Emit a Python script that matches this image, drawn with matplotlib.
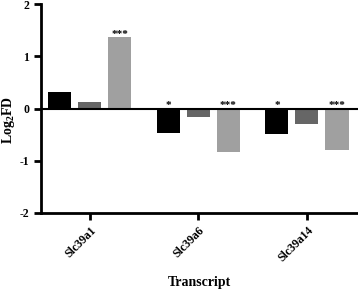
import matplotlib
matplotlib.use("Agg")
import matplotlib.pyplot as plt
import numpy as np

transcripts = ["Slc39a1", "Slc39a6", "Slc39a14"]
series1 = [0.31, -0.46, -0.48]
series2 = [0.13, -0.17, -0.29]
series3 = [1.37, -0.84, -0.80]
stars1 = ["", "*", "*"]
stars2 = ["", "", ""]
stars3 = ["***", "***", "***"]

plt.rcParams['font.family'] = ['Liberation Serif', 'DejaVu Serif']
plt.rcParams['font.weight'] = 'bold'
plt.rcParams['mathtext.fontset'] = 'custom'
plt.rcParams['mathtext.rm'] = 'Liberation Serif:bold'
plt.rcParams['mathtext.bf'] = 'Liberation Serif:bold'
plt.rcParams['mathtext.it'] = 'Liberation Serif:bold'

fig = plt.figure(figsize=(3.58, 2.91), dpi=100)
ax = fig.add_axes([0.1145, 0.269, 0.8855, 0.716])

x = np.arange(len(transcripts))
off = 0.2765
w = 0.212
colors = ["#000000", "#666666", "#a0a0a0"]
for i, (vals, st) in enumerate(zip([series1, series2, series3], [stars1, stars2, stars3])):
    xs = x + (i - 1) * off
    ax.bar(xs, vals, width=w, color=colors[i], edgecolor='none', zorder=2)
    for xi, v, s in zip(xs, vals, st):
        if s:
            ypos = max(v, 0) - 0.03
            ax.text(xi, ypos, s, ha='center', va='bottom', fontsize=8, fontweight='bold')

ax.axhline(0, color='black', lw=1.5, zorder=3)
ax.set_xlim(-0.45, 2.47)
ax.set_ylim(-2, 2)
ax.set_yticks([-2, -1, 0, 1, 2])
ax.set_yticklabels(["-2", "-1", "0", "1", "2"], fontsize=8.5, fontweight='bold')
ax.set_xticks(x)
ax.set_xticklabels(transcripts, rotation=45, ha='right', rotation_mode='anchor', fontsize=8.5, fontweight='bold')
for s in ['top', 'right']:
    ax.spines[s].set_visible(False)
for s in ['left', 'bottom']:
    ax.spines[s].set_linewidth(2)
ax.tick_params(axis='both', width=2, length=5)
ax.set_ylabel(r"$\mathrm{Log_2FD}$", fontsize=10)
ax.yaxis.set_label_coords(-0.075, 0.445)
ax.set_xlabel("Transcript", fontsize=10, fontweight='bold', labelpad=8)
fig.savefig("out.png", dpi=100)
